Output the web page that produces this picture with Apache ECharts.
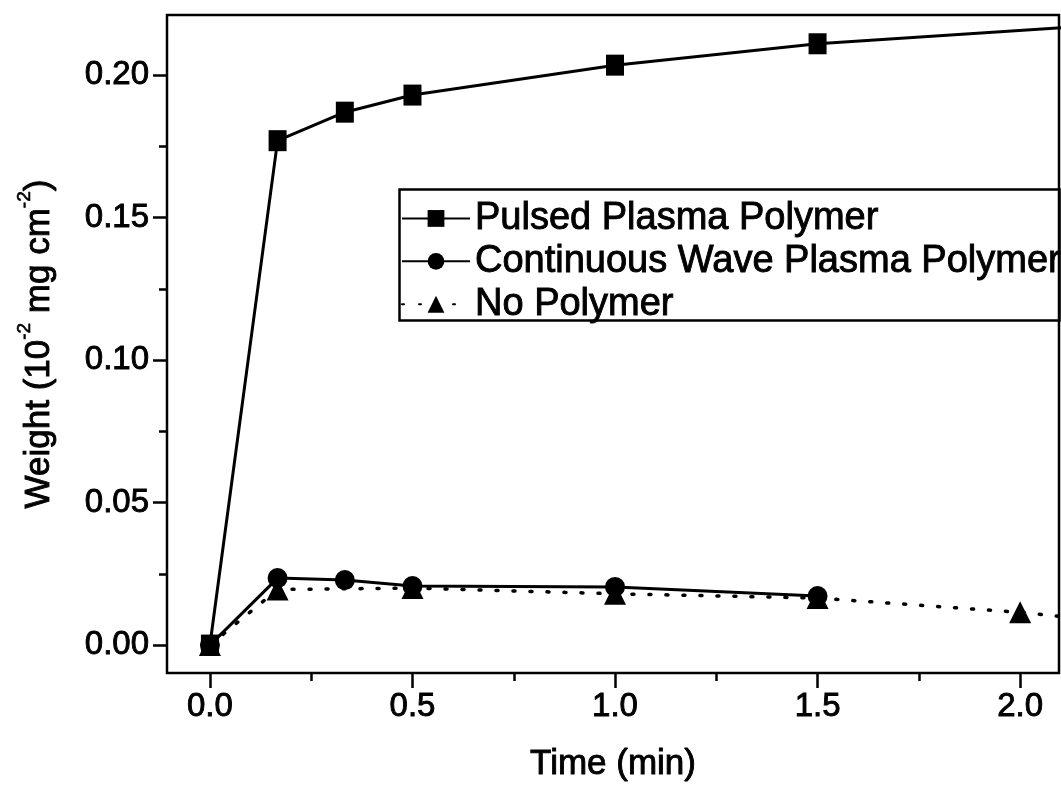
<!DOCTYPE html>
<html><head><meta charset="utf-8">
<script src="https://cdn.jsdelivr.net/npm/echarts@6/dist/echarts.min.js"></script>
<style>html,body{margin:0;background:#fff}#c{width:1061px;height:791px}</style>
</head><body><div id="c"></div>
<script>
const seriesNames = ['Pulsed Plasma Polymer', 'Continuous Wave Plasma Polymer', 'No Polymer'];
const timePulsed = [0, 0.167, 0.333, 0.5, 1.0, 1.5, 3.0];
const weightPulsed = [0, 0.177, 0.187, 0.193, 0.2035, 0.211, 0.225];
const timeCW = [0, 0.167, 0.333, 0.5, 1.0, 1.5];
const weightCW = [0, 0.0235, 0.0228, 0.0207, 0.0204, 0.0172];
const timeNone = [0, 0.167, 0.5, 1.0, 1.5, 2.0, 2.5];
const weightNone = [0, 0.0195, 0.0200, 0.0180, 0.0165, 0.0115, 0.004];
const xMajorTicks = [0, 0.5, 1.0, 1.5, 2.0];
const xMinorTicks = [0.25, 0.75, 1.25, 1.75];
const yMajorTicks = [0, 0.05, 0.10, 0.15, 0.20];
const yMinorTicks = [0.025, 0.075, 0.125, 0.175];

const FF = '"Liberation Sans", Arial, sans-serif';
const pairs = (xs, ys) => xs.map((x, i) => [x, ys[i]]);
const chart = echarts.init(document.getElementById('c'), null, {renderer: 'canvas'});
const X = {min: -0.106, max: 2.096};
const Y = {min: -0.0098, max: 0.2211};
const tickStyle = {color: '#000', width: 2.5};
const thick = {textBorderColor: '#000', textBorderWidth: 0.9};

chart.setOption({
  backgroundColor: '#fff',
  animation: false,
  grid: {left: 167, top: 15, right: 2, bottom: 118, show: true, borderColor: '#000', borderWidth: 2.5, backgroundColor: 'transparent'},
  xAxis: [
    {type: 'value', min: X.min, max: X.max, position: 'bottom',
     axisLine: {show: false, onZero: false}, splitLine: {show: false},
     axisTick: {show: true, inside: false, length: 15, lineStyle: tickStyle, customValues: xMajorTicks},
     axisLabel: Object.assign({customValues: xMajorTicks, formatter: v => v.toFixed(1), margin: 17,
                 fontSize: 33, color: '#000', fontFamily: FF}, thick),
     name: 'Time (min)', nameLocation: 'middle', nameGap: 74,
     nameTextStyle: Object.assign({fontSize: 35, color: '#000', fontFamily: FF}, thick)},
    {type: 'value', min: X.min, max: X.max, position: 'bottom',
     axisLine: {show: false, onZero: false}, splitLine: {show: false},
     axisTick: {show: true, inside: false, length: 8, lineStyle: tickStyle, customValues: xMinorTicks},
     axisLabel: {show: false}}
  ],
  yAxis: [
    {type: 'value', min: Y.min, max: Y.max, position: 'left',
     axisLine: {show: false, onZero: false}, splitLine: {show: false},
     axisTick: {show: true, inside: false, length: 14, lineStyle: tickStyle, customValues: yMajorTicks},
     axisLabel: Object.assign({customValues: yMajorTicks, formatter: v => v.toFixed(2), margin: 18,
                 fontSize: 33, color: '#000', fontFamily: FF}, thick),
     name: '{n|Weight (10}{s|-2}{n| mg cm}{s|-2}{n|)}', nameLocation: 'middle', nameGap: 110, nameRotate: 90,
     nameTextStyle: {color: '#000', fontFamily: FF, rich: {
       n: Object.assign({fontSize: 35, color: '#000', fontFamily: FF, lineHeight: 42, verticalAlign: 'bottom'}, thick),
       s: Object.assign({fontSize: 19, color: '#000', fontFamily: FF, lineHeight: 42, verticalAlign: 'top'}, {textBorderColor: '#000', textBorderWidth: 0.6})
     }}},
    {type: 'value', min: Y.min, max: Y.max, position: 'left',
     axisLine: {show: false, onZero: false}, splitLine: {show: false},
     axisTick: {show: true, inside: false, length: 8, lineStyle: tickStyle, customValues: yMinorTicks},
     axisLabel: {show: false}}
  ],
  legend: {
    orient: 'vertical', left: 401, top: 199, itemWidth: 68, itemHeight: 21, itemGap: 4,
    selectedMode: false, padding: 0,
    textStyle: Object.assign({fontSize: 38, color: '#000', fontFamily: FF, lineHeight: 36}, thick),
    data: seriesNames
  },
  graphic: [{type: 'rect', left: 397, top: 187, z: 0,
    shape: {width: 660, height: 131}, style: {fill: 'none', stroke: '#000', lineWidth: 2.5}}],
  series: [
    {name: seriesNames[0], type: 'line', data: pairs(timePulsed, weightPulsed), clip: true,
     symbol: 'rect', symbolSize: [18, 21], itemStyle: {color: '#000'},
     lineStyle: {color: '#000', width: 3}, z: 3},
    {name: seriesNames[1], type: 'line', data: pairs(timeCW, weightCW), clip: true,
     symbol: 'circle', symbolSize: 20, itemStyle: {color: '#000'},
     lineStyle: {color: '#000', width: 3}, z: 2},
    {name: seriesNames[2], type: 'line', data: pairs(timeNone, weightNone), clip: true,
     symbol: 'triangle', symbolSize: 22, itemStyle: {color: '#000'},
     lineStyle: {color: '#000', width: 3.5, type: [2, 15], cap: 'round'}, z: 4}
  ]
});
</script></body></html>
